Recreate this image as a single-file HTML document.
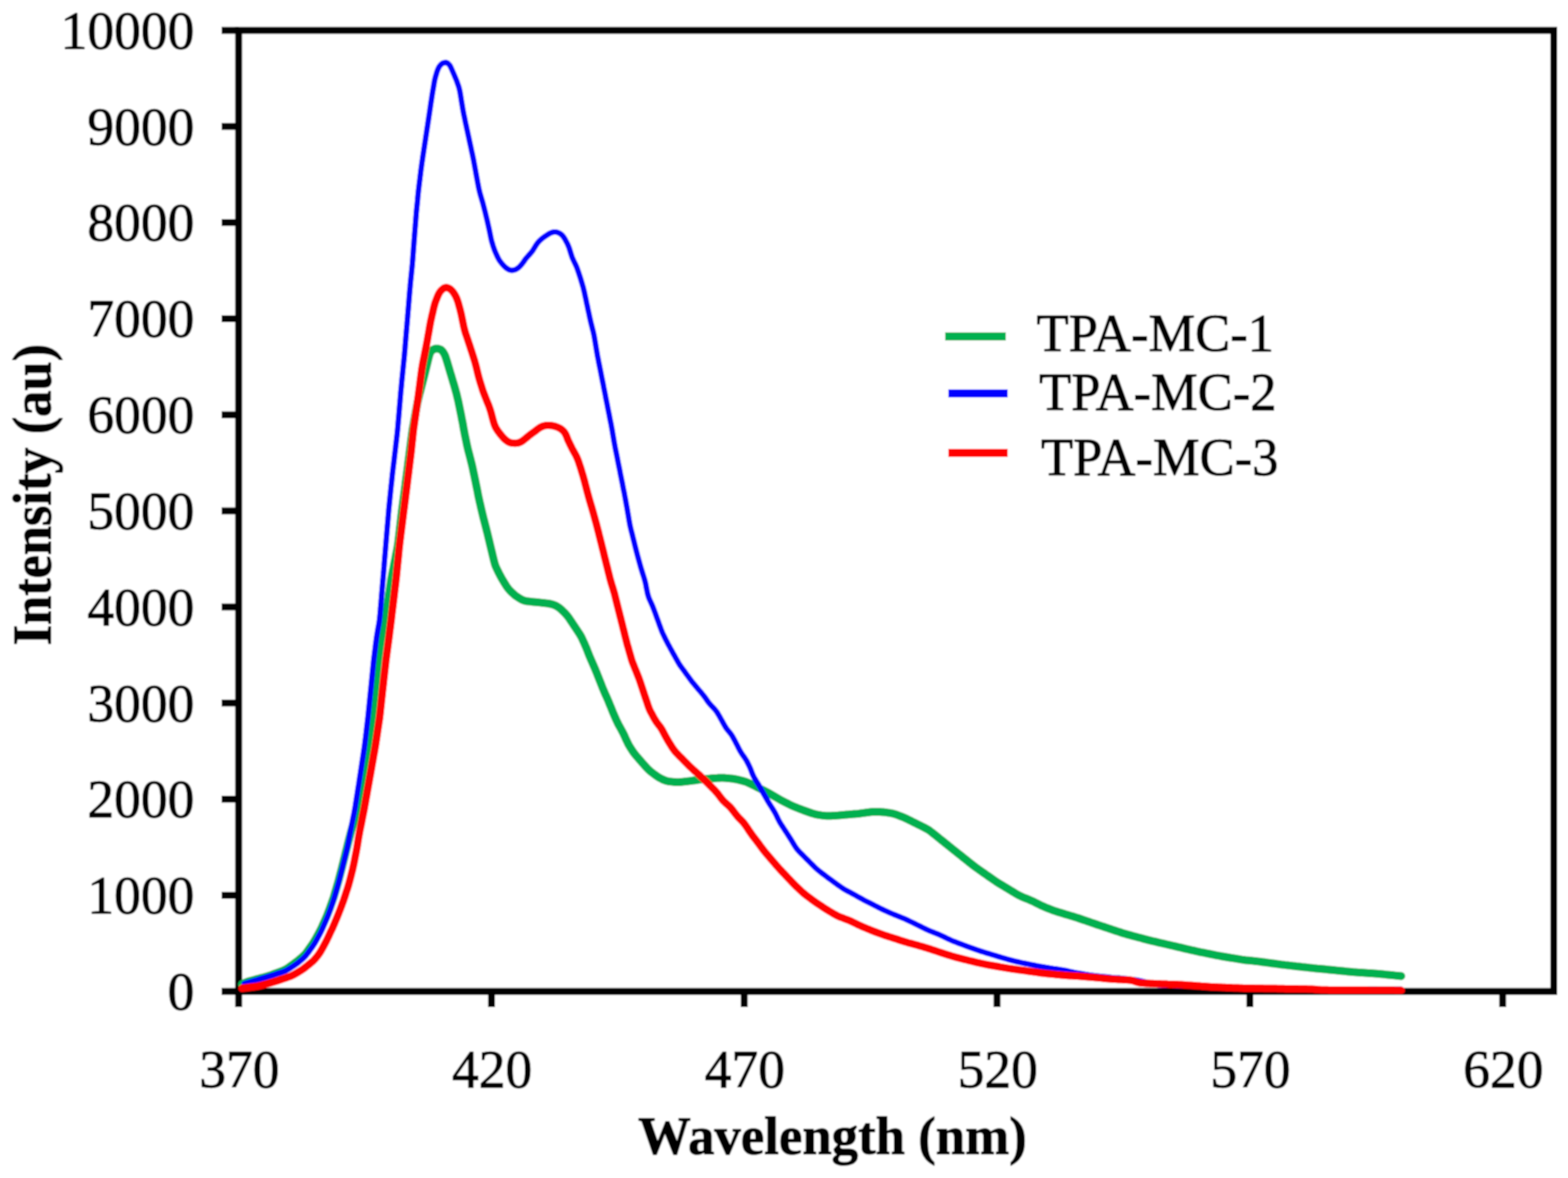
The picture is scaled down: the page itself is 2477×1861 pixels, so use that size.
<!DOCTYPE html>
<html lang="en">
<head>
<meta charset="utf-8">
<title>Emission spectra of TPA-MC-1, TPA-MC-2 and TPA-MC-3</title>
<style>
html,body{margin:0;padding:0;background:#fff;}
body{width:2477px;height:1861px;overflow:hidden;}
svg{display:block;}
text{font-family:"Liberation Serif","DejaVu Serif",serif;fill:#000;stroke:#000;stroke-width:1.5px;stroke-linejoin:round;}
.tick{font-size:84.5px;}
.title{font-size:84.5px;font-weight:bold;}
.leg{font-size:84.5px;}
</style>
</head>
<body>
<svg width="2477" height="1861" viewBox="0 0 2477 1861">
<defs><filter id="soft" x="0" y="0" width="2477" height="1861" filterUnits="userSpaceOnUse"><feGaussianBlur stdDeviation="1.0"/></filter></defs>
<rect x="0" y="0" width="2477" height="1861" fill="#fff"/>
<g filter="url(#soft)">
<rect x="0" y="0" width="2477" height="1861" fill="#fff"/>
<rect x="377.0" y="48.0" width="2077.5" height="1518.2" fill="none" stroke="#000" stroke-width="11"/>
<line x1="350" y1="1566.2" x2="377.0" y2="1566.2" stroke="#000" stroke-width="11"/><text class="tick" transform="translate(307 1595.0) scale(1 1.0)" text-anchor="end">0</text>
<line x1="350" y1="1414.4" x2="377.0" y2="1414.4" stroke="#000" stroke-width="11"/><text class="tick" transform="translate(307 1443.2) scale(1 1.0)" text-anchor="end">1000</text>
<line x1="350" y1="1262.6" x2="377.0" y2="1262.6" stroke="#000" stroke-width="11"/><text class="tick" transform="translate(307 1291.4) scale(1 1.0)" text-anchor="end">2000</text>
<line x1="350" y1="1110.7" x2="377.0" y2="1110.7" stroke="#000" stroke-width="11"/><text class="tick" transform="translate(307 1139.5) scale(1 1.0)" text-anchor="end">3000</text>
<line x1="350" y1="958.9" x2="377.0" y2="958.9" stroke="#000" stroke-width="11"/><text class="tick" transform="translate(307 987.7) scale(1 1.0)" text-anchor="end">4000</text>
<line x1="350" y1="807.1" x2="377.0" y2="807.1" stroke="#000" stroke-width="11"/><text class="tick" transform="translate(307 835.9) scale(1 1.0)" text-anchor="end">5000</text>
<line x1="350" y1="655.3" x2="377.0" y2="655.3" stroke="#000" stroke-width="11"/><text class="tick" transform="translate(307 684.1) scale(1 1.0)" text-anchor="end">6000</text>
<line x1="350" y1="503.5" x2="377.0" y2="503.5" stroke="#000" stroke-width="11"/><text class="tick" transform="translate(307 532.3) scale(1 1.0)" text-anchor="end">7000</text>
<line x1="350" y1="351.6" x2="377.0" y2="351.6" stroke="#000" stroke-width="11"/><text class="tick" transform="translate(307 380.4) scale(1 1.0)" text-anchor="end">8000</text>
<line x1="350" y1="199.8" x2="377.0" y2="199.8" stroke="#000" stroke-width="11"/><text class="tick" transform="translate(307 228.6) scale(1 1.0)" text-anchor="end">9000</text>
<line x1="350" y1="48.0" x2="377.0" y2="48.0" stroke="#000" stroke-width="11"/><text class="tick" transform="translate(307 76.8) scale(1 1.0)" text-anchor="end">10000</text>
<line x1="377.0" y1="1566.2" x2="377.0" y2="1591" stroke="#000" stroke-width="11"/><text class="tick" transform="translate(378.0 1718.3) scale(1 1.0)" text-anchor="middle">370</text>
<line x1="776.4" y1="1566.2" x2="776.4" y2="1591" stroke="#000" stroke-width="11"/><text class="tick" transform="translate(777.4 1718.3) scale(1 1.0)" text-anchor="middle">420</text>
<line x1="1175.7" y1="1566.2" x2="1175.7" y2="1591" stroke="#000" stroke-width="11"/><text class="tick" transform="translate(1176.7 1718.3) scale(1 1.0)" text-anchor="middle">470</text>
<line x1="1575.0" y1="1566.2" x2="1575.0" y2="1591" stroke="#000" stroke-width="11"/><text class="tick" transform="translate(1576.0 1718.3) scale(1 1.0)" text-anchor="middle">520</text>
<line x1="1974.4" y1="1566.2" x2="1974.4" y2="1591" stroke="#000" stroke-width="11"/><text class="tick" transform="translate(1975.4 1718.3) scale(1 1.0)" text-anchor="middle">570</text>
<line x1="2373.8" y1="1566.2" x2="2373.8" y2="1591" stroke="#000" stroke-width="11"/><text class="tick" transform="translate(2374.8 1718.3) scale(1 1.0)" text-anchor="middle">620</text>
<path d="M382.5,1555.0 L385.3,1553.5 L387.9,1552.2 L390.6,1551.1 L393.4,1550.2 L396.3,1549.4 L399.2,1548.6 L402.1,1547.8 L405.0,1547.0 L407.9,1546.3 L410.8,1545.5 L413.7,1544.7 L416.6,1544.0 L419.5,1543.2 L422.4,1542.3 L425.2,1541.4 L428.1,1540.5 L430.9,1539.4 L433.7,1538.4 L436.5,1537.4 L439.3,1536.3 L442.1,1535.3 L444.9,1534.2 L447.7,1533.1 L450.4,1531.8 L453.0,1530.4 L455.5,1528.7 L457.9,1527.0 L460.4,1525.2 L462.8,1523.5 L465.2,1521.7 L467.6,1519.9 L470.0,1518.1 L472.3,1516.2 L474.6,1514.3 L476.9,1512.3 L479.1,1510.3 L481.2,1508.2 L483.2,1506.0 L485.0,1503.6 L486.8,1501.2 L488.5,1498.7 L490.2,1496.3 L491.9,1493.8 L493.6,1491.3 L495.3,1488.8 L496.8,1486.3 L498.3,1483.7 L499.8,1481.1 L501.2,1478.5 L502.7,1475.8 L504.1,1473.2 L505.5,1470.6 L506.9,1467.9 L508.2,1465.2 L509.4,1462.4 L510.6,1459.7 L511.9,1457.0 L513.1,1454.2 L514.3,1451.5 L515.5,1448.7 L516.7,1446.0 L517.8,1443.2 L518.9,1440.4 L519.9,1437.6 L521.0,1434.8 L522.0,1431.9 L523.0,1429.1 L524.0,1426.3 L525.0,1423.5 L526.0,1420.6 L527.0,1417.8 L527.9,1414.9 L528.7,1412.1 L529.6,1409.2 L530.4,1406.3 L531.3,1403.4 L532.1,1400.5 L532.9,1397.7 L533.8,1394.8 L534.6,1391.9 L535.4,1389.0 L536.1,1386.1 L536.9,1383.2 L537.6,1380.3 L538.4,1377.4 L539.1,1374.5 L539.9,1371.6 L540.6,1368.7 L541.3,1365.8 L542.1,1362.9 L542.8,1359.9 L543.5,1357.0 L544.3,1354.1 L545.0,1351.2 L545.7,1348.3 L546.4,1345.4 L547.1,1342.5 L547.9,1339.6 L548.6,1336.7 L549.3,1333.7 L550.1,1330.8 L550.8,1327.9 L551.6,1325.0 L552.3,1322.1 L553.1,1319.2 L553.8,1316.3 L554.6,1313.4 L555.4,1310.5 L556.2,1307.6 L557.1,1304.8 L558.0,1301.9 L558.9,1299.0 L559.8,1296.2 L560.7,1293.3 L561.6,1290.5 L562.5,1287.6 L563.4,1284.8 L564.3,1281.9 L565.0,1279.0 L565.6,1276.0 L566.1,1273.1 L566.6,1270.1 L567.0,1267.2 L567.5,1264.2 L568.0,1261.2 L568.5,1258.3 L568.9,1255.3 L569.4,1252.4 L569.9,1249.4 L570.4,1246.4 L570.8,1243.5 L571.3,1240.5 L571.8,1237.5 L572.3,1234.6 L572.7,1231.6 L573.2,1228.7 L573.7,1225.7 L574.2,1222.7 L574.7,1219.8 L575.2,1216.8 L575.7,1213.9 L576.2,1210.9 L576.7,1207.9 L577.2,1205.0 L577.7,1202.0 L578.2,1199.1 L578.6,1196.1 L579.1,1193.1 L579.6,1190.2 L580.1,1187.2 L580.6,1184.3 L581.1,1181.3 L581.5,1178.3 L582.0,1175.4 L582.4,1172.4 L582.8,1169.4 L583.2,1166.5 L583.6,1163.5 L584.0,1160.5 L584.3,1157.5 L584.7,1154.6 L585.1,1151.6 L585.5,1148.6 L585.9,1145.6 L586.3,1142.7 L586.7,1139.7 L587.1,1136.7 L587.5,1133.7 L587.8,1130.8 L588.2,1127.8 L588.5,1124.8 L588.8,1121.8 L589.1,1118.8 L589.5,1115.8 L589.8,1112.9 L590.1,1109.9 L590.5,1106.9 L590.8,1103.9 L591.1,1100.9 L591.5,1098.0 L591.8,1095.0 L592.1,1092.0 L592.4,1089.0 L592.7,1086.0 L593.0,1083.0 L593.3,1080.1 L593.6,1077.1 L593.9,1074.1 L594.2,1071.1 L594.5,1068.1 L594.8,1065.1 L595.1,1062.1 L595.4,1059.2 L595.7,1056.2 L596.0,1053.2 L596.3,1050.2 L596.6,1047.2 L597.0,1044.2 L597.3,1041.3 L597.7,1038.3 L598.1,1035.3 L598.5,1032.3 L598.9,1029.4 L599.3,1026.4 L599.7,1023.4 L600.1,1020.5 L600.6,1017.5 L601.0,1014.5 L601.4,1011.5 L601.9,1008.6 L602.5,1005.6 L603.1,1002.7 L603.9,999.8 L604.6,996.9 L605.4,994.0 L606.1,991.1 L606.9,988.2 L607.6,985.3 L608.3,982.4 L608.9,979.4 L609.4,976.5 L609.9,973.5 L610.3,970.6 L610.7,967.6 L611.1,964.6 L611.5,961.6 L612.0,958.7 L612.4,955.7 L612.8,952.7 L613.2,949.8 L613.6,946.8 L614.0,943.8 L614.4,940.8 L614.8,937.9 L615.2,934.9 L615.7,931.9 L616.1,929.0 L616.5,926.0 L616.9,923.0 L617.3,920.0 L617.8,917.1 L618.2,914.1 L618.8,911.2 L619.3,908.2 L619.9,905.3 L620.5,902.3 L621.1,899.4 L621.7,896.4 L622.2,893.5 L622.8,890.6 L623.4,887.6 L624.0,884.7 L624.6,881.7 L625.1,878.8 L625.7,875.8 L626.3,872.9 L626.9,870.0 L627.5,867.0 L628.0,864.1 L628.5,861.1 L629.0,858.1 L629.3,855.2 L629.7,852.2 L630.0,849.2 L630.4,846.2 L630.7,843.3 L631.1,840.3 L631.4,837.3 L631.7,834.3 L632.1,831.3 L632.4,828.4 L632.8,825.4 L633.1,822.4 L633.5,819.4 L633.8,816.4 L634.1,813.4 L634.5,810.5 L634.8,807.5 L635.2,804.5 L635.6,801.5 L636.0,798.6 L636.4,795.6 L636.8,792.6 L637.2,789.6 L637.6,786.7 L638.0,783.7 L638.4,780.7 L638.8,777.7 L639.2,774.8 L639.6,771.8 L640.0,768.8 L640.4,765.9 L640.7,762.9 L641.1,759.9 L641.5,756.9 L641.9,754.0 L642.3,751.0 L642.7,748.0 L643.1,745.0 L643.5,742.1 L643.9,739.1 L644.3,736.1 L644.6,733.1 L645.0,730.2 L645.4,727.2 L645.8,724.2 L646.2,721.2 L646.6,718.3 L646.9,715.3 L647.3,712.3 L647.7,709.3 L648.1,706.4 L648.5,703.4 L648.9,700.4 L649.2,697.4 L649.6,694.5 L650.0,691.5 L650.4,688.5 L650.8,685.5 L651.2,682.6 L651.6,679.6 L652.1,676.6 L652.6,673.7 L653.2,670.7 L653.7,667.8 L654.2,664.8 L654.8,661.9 L655.3,658.9 L655.8,656.0 L656.4,653.0 L656.9,650.1 L657.4,647.1 L658.0,644.2 L658.5,641.2 L659.1,638.3 L659.6,635.3 L660.3,632.4 L661.0,629.5 L661.7,626.6 L662.4,623.7 L663.2,620.7 L664.0,617.8 L664.7,614.9 L665.5,612.0 L666.2,609.1 L667.0,606.2 L667.7,603.3 L668.5,600.4 L669.2,597.5 L670.0,594.6 L670.7,591.7 L671.4,588.8 L672.1,585.9 L672.8,583.0 L673.6,580.0 L674.3,577.1 L675.0,574.2 L675.7,571.3 L676.4,568.4 L677.1,565.5 L677.9,562.6 L678.7,559.7 L679.8,557.1 L681.4,554.7 L683.4,552.9 L685.9,551.5 L688.6,550.8 L691.5,550.8 L694.2,551.4 L696.7,552.6 L698.7,554.4 L700.4,556.8 L701.9,559.3 L703.2,562.0 L704.2,564.8 L705.1,567.6 L706.0,570.5 L706.9,573.4 L707.7,576.3 L708.6,579.1 L709.4,582.0 L710.3,584.9 L711.1,587.8 L712.0,590.6 L712.9,593.5 L713.7,596.4 L714.6,599.3 L715.4,602.1 L716.3,605.0 L717.2,607.9 L718.0,610.8 L718.8,613.6 L719.6,616.5 L720.4,619.4 L721.2,622.3 L721.9,625.2 L722.6,628.2 L723.3,631.1 L724.0,634.0 L724.6,636.9 L725.2,639.9 L725.8,642.8 L726.4,645.7 L727.0,648.7 L727.6,651.6 L728.2,654.6 L728.8,657.5 L729.3,660.5 L729.9,663.4 L730.5,666.3 L731.1,669.3 L731.6,672.2 L732.1,675.2 L732.6,678.1 L733.2,681.1 L733.8,684.0 L734.3,687.0 L735.0,689.9 L735.6,692.9 L736.2,695.8 L736.8,698.7 L737.4,701.7 L738.0,704.6 L738.7,707.5 L739.4,710.4 L740.1,713.3 L740.9,716.2 L741.7,719.2 L742.4,722.1 L743.2,725.0 L743.9,727.9 L744.6,730.8 L745.4,733.7 L746.0,736.6 L746.7,739.5 L747.3,742.5 L747.9,745.4 L748.5,748.3 L749.2,751.3 L749.8,754.2 L750.4,757.1 L751.0,760.1 L751.6,763.0 L752.2,766.0 L752.8,768.9 L753.4,771.8 L754.0,774.8 L754.6,777.7 L755.1,780.7 L755.7,783.6 L756.3,786.6 L757.0,789.5 L757.6,792.4 L758.3,795.3 L759.0,798.3 L759.6,801.2 L760.3,804.1 L761.0,807.0 L761.7,809.9 L762.4,812.9 L763.1,815.8 L763.8,818.7 L764.6,821.6 L765.3,824.5 L766.1,827.4 L766.8,830.3 L767.6,833.2 L768.3,836.1 L769.0,839.0 L769.8,841.9 L770.5,844.9 L771.2,847.8 L771.9,850.7 L772.6,853.6 L773.3,856.5 L774.0,859.4 L774.7,862.4 L775.4,865.3 L776.1,868.2 L776.8,871.1 L777.5,874.0 L778.2,876.9 L778.9,879.9 L779.6,882.8 L780.3,885.7 L781.1,888.6 L781.9,891.5 L782.9,894.3 L784.1,897.0 L785.4,899.7 L786.7,902.4 L788.0,905.1 L789.4,907.8 L790.8,910.4 L792.2,913.0 L793.7,915.6 L795.3,918.2 L796.8,920.8 L798.4,923.3 L800.0,925.9 L801.7,928.3 L803.5,930.6 L805.5,932.9 L807.6,935.0 L809.8,937.1 L812.0,939.1 L814.3,941.0 L816.8,942.7 L819.3,944.3 L821.8,945.9 L824.4,947.3 L827.1,948.5 L829.9,949.3 L832.8,949.9 L835.8,950.2 L838.8,950.5 L841.7,950.8 L844.7,951.1 L847.7,951.4 L850.7,951.7 L853.7,952.0 L856.7,952.3 L859.6,952.6 L862.6,953.0 L865.6,953.4 L868.5,953.9 L871.5,954.5 L874.3,955.4 L877.1,956.5 L879.7,957.8 L882.2,959.4 L884.6,961.2 L886.9,963.1 L889.0,965.2 L891.1,967.3 L893.2,969.4 L895.2,971.7 L897.1,974.0 L898.9,976.4 L900.5,978.9 L902.2,981.4 L903.9,983.9 L905.5,986.4 L907.2,988.9 L908.9,991.4 L910.5,993.9 L912.2,996.4 L913.8,998.9 L915.5,1001.4 L917.0,1003.9 L918.5,1006.5 L919.8,1009.2 L921.0,1012.0 L922.3,1014.7 L923.5,1017.4 L924.7,1020.2 L925.9,1022.9 L927.0,1025.7 L928.1,1028.5 L929.2,1031.3 L930.3,1034.1 L931.4,1036.9 L932.6,1039.6 L933.8,1042.4 L935.0,1045.1 L936.2,1047.9 L937.4,1050.6 L938.6,1053.4 L939.8,1056.1 L940.9,1058.9 L942.1,1061.7 L943.2,1064.5 L944.3,1067.3 L945.4,1070.0 L946.5,1072.8 L947.6,1075.6 L948.7,1078.4 L949.8,1081.2 L950.9,1084.0 L952.0,1086.8 L953.2,1089.5 L954.3,1092.3 L955.5,1095.1 L956.7,1097.8 L958.0,1100.5 L959.2,1103.3 L960.4,1106.0 L961.6,1108.8 L962.7,1111.6 L963.8,1114.3 L965.0,1117.1 L966.1,1119.9 L967.2,1122.7 L968.3,1125.5 L969.5,1128.2 L970.7,1131.0 L971.9,1133.7 L973.1,1136.5 L974.4,1139.2 L975.7,1141.9 L977.0,1144.6 L978.5,1147.2 L979.9,1149.8 L981.4,1152.5 L982.8,1155.1 L984.2,1157.7 L985.5,1160.4 L986.8,1163.1 L988.0,1165.9 L989.2,1168.6 L990.5,1171.3 L991.8,1174.0 L993.2,1176.7 L994.7,1179.2 L996.3,1181.8 L997.9,1184.3 L999.6,1186.8 L1001.3,1189.3 L1003.1,1191.7 L1005.0,1194.0 L1007.0,1196.2 L1008.9,1198.5 L1010.9,1200.8 L1012.9,1203.0 L1014.8,1205.3 L1016.8,1207.5 L1018.8,1209.8 L1020.8,1212.0 L1022.9,1214.2 L1025.0,1216.3 L1027.2,1218.3 L1029.6,1220.2 L1032.0,1222.0 L1034.4,1223.8 L1036.8,1225.5 L1039.3,1227.2 L1041.8,1228.7 L1044.5,1230.1 L1047.1,1231.5 L1049.9,1232.7 L1052.7,1233.6 L1055.6,1234.3 L1058.5,1234.7 L1061.5,1235.0 L1064.5,1235.3 L1067.4,1235.5 L1070.4,1235.6 L1073.4,1235.5 L1076.4,1235.3 L1079.4,1235.0 L1082.4,1234.7 L1085.4,1234.4 L1088.3,1234.0 L1091.3,1233.7 L1094.3,1233.2 L1097.2,1232.8 L1100.2,1232.4 L1103.2,1231.9 L1106.2,1231.5 L1109.1,1231.2 L1112.1,1230.9 L1115.1,1230.6 L1118.1,1230.3 L1121.1,1230.0 L1124.1,1229.7 L1127.1,1229.5 L1130.0,1229.3 L1133.0,1229.2 L1136.0,1229.0 L1139.0,1228.9 L1142.0,1228.9 L1145.0,1229.0 L1148.0,1229.3 L1151.0,1229.5 L1154.0,1229.8 L1157.0,1230.2 L1159.9,1230.6 L1162.9,1231.1 L1165.8,1231.8 L1168.7,1232.5 L1171.6,1233.2 L1174.5,1234.0 L1177.4,1234.8 L1180.2,1235.9 L1182.9,1237.1 L1185.6,1238.3 L1188.3,1239.7 L1191.0,1241.0 L1193.7,1242.3 L1196.4,1243.7 L1199.0,1245.0 L1201.7,1246.4 L1204.4,1247.7 L1207.1,1249.1 L1209.8,1250.4 L1212.4,1251.8 L1215.1,1253.2 L1217.7,1254.7 L1220.3,1256.2 L1222.8,1257.7 L1225.4,1259.3 L1228.0,1260.8 L1230.6,1262.3 L1233.2,1263.8 L1235.8,1265.2 L1238.5,1266.6 L1241.2,1267.9 L1243.9,1269.3 L1246.5,1270.6 L1249.2,1271.9 L1252.0,1273.2 L1254.7,1274.4 L1257.5,1275.5 L1260.3,1276.6 L1263.1,1277.7 L1265.9,1278.8 L1268.7,1279.9 L1271.5,1280.9 L1274.3,1281.9 L1277.1,1282.9 L1280.0,1283.9 L1282.8,1284.9 L1285.7,1285.7 L1288.6,1286.5 L1291.5,1287.1 L1294.5,1287.5 L1297.4,1288.0 L1300.4,1288.4 L1303.4,1288.7 L1306.3,1288.9 L1309.3,1288.9 L1312.3,1288.8 L1315.3,1288.7 L1318.3,1288.6 L1321.3,1288.4 L1324.3,1288.2 L1327.3,1287.9 L1330.3,1287.6 L1333.3,1287.3 L1336.2,1287.0 L1339.2,1286.8 L1342.2,1286.5 L1345.2,1286.3 L1348.2,1286.0 L1351.2,1285.8 L1354.2,1285.6 L1357.2,1285.3 L1360.1,1284.9 L1363.1,1284.5 L1366.1,1284.1 L1369.1,1283.7 L1372.0,1283.3 L1375.0,1282.9 L1378.0,1282.7 L1381.0,1282.6 L1384.0,1282.6 L1387.0,1282.6 L1390.0,1282.6 L1393.0,1282.8 L1395.9,1283.0 L1398.9,1283.3 L1401.9,1283.8 L1404.9,1284.2 L1407.8,1284.7 L1410.7,1285.3 L1413.6,1286.1 L1416.4,1287.0 L1419.2,1288.1 L1422.0,1289.2 L1424.8,1290.3 L1427.6,1291.4 L1430.3,1292.6 L1433.1,1293.9 L1435.7,1295.2 L1438.4,1296.5 L1441.1,1297.9 L1443.8,1299.2 L1446.5,1300.6 L1449.2,1301.9 L1451.8,1303.3 L1454.5,1304.6 L1457.2,1305.9 L1459.9,1307.3 L1462.6,1308.7 L1465.2,1310.1 L1467.7,1311.7 L1470.1,1313.5 L1472.5,1315.3 L1474.8,1317.2 L1477.2,1319.1 L1479.5,1320.9 L1481.8,1322.8 L1484.2,1324.7 L1486.5,1326.6 L1488.8,1328.4 L1491.2,1330.3 L1493.5,1332.2 L1495.9,1334.1 L1498.2,1336.0 L1500.5,1337.8 L1502.9,1339.7 L1505.2,1341.6 L1507.6,1343.5 L1509.9,1345.3 L1512.3,1347.2 L1514.6,1349.1 L1517.0,1350.9 L1519.3,1352.8 L1521.6,1354.7 L1524.0,1356.6 L1526.3,1358.4 L1528.7,1360.3 L1531.0,1362.2 L1533.4,1364.1 L1535.7,1365.9 L1538.1,1367.8 L1540.5,1369.5 L1542.9,1371.3 L1545.4,1373.0 L1547.8,1374.8 L1550.3,1376.5 L1552.7,1378.2 L1555.2,1379.9 L1557.6,1381.6 L1560.1,1383.4 L1562.6,1385.1 L1565.0,1386.8 L1567.5,1388.5 L1570.0,1390.2 L1572.4,1391.9 L1574.9,1393.6 L1577.5,1395.2 L1580.0,1396.7 L1582.6,1398.3 L1585.1,1399.8 L1587.7,1401.4 L1590.3,1402.9 L1592.9,1404.5 L1595.4,1406.0 L1598.0,1407.6 L1600.6,1409.1 L1603.1,1410.7 L1605.7,1412.2 L1608.3,1413.7 L1611.0,1415.1 L1613.7,1416.4 L1616.4,1417.6 L1619.2,1418.7 L1622.0,1419.8 L1624.8,1420.9 L1627.5,1422.1 L1630.3,1423.3 L1633.0,1424.6 L1635.7,1425.9 L1638.3,1427.2 L1641.0,1428.6 L1643.7,1429.9 L1646.4,1431.2 L1649.2,1432.4 L1651.9,1433.6 L1654.7,1434.7 L1657.5,1435.8 L1660.3,1436.9 L1663.1,1438.0 L1665.9,1439.0 L1668.8,1439.9 L1671.6,1440.8 L1674.5,1441.7 L1677.4,1442.5 L1680.2,1443.4 L1683.1,1444.3 L1686.0,1445.1 L1688.9,1446.0 L1691.7,1446.9 L1694.6,1447.7 L1697.5,1448.6 L1700.3,1449.5 L1703.2,1450.4 L1706.0,1451.4 L1708.9,1452.4 L1711.7,1453.3 L1714.6,1454.3 L1717.4,1455.3 L1720.2,1456.2 L1723.1,1457.2 L1725.9,1458.2 L1728.7,1459.1 L1731.6,1460.1 L1734.4,1461.1 L1737.3,1462.0 L1740.1,1463.0 L1743.0,1463.9 L1745.8,1464.9 L1748.7,1465.8 L1751.5,1466.8 L1754.3,1467.7 L1757.2,1468.7 L1760.0,1469.6 L1762.9,1470.6 L1765.7,1471.5 L1768.6,1472.4 L1771.4,1473.4 L1774.3,1474.3 L1777.2,1475.2 L1780.1,1476.0 L1782.9,1476.8 L1785.8,1477.5 L1788.7,1478.3 L1791.6,1479.1 L1794.5,1479.9 L1797.4,1480.7 L1800.3,1481.4 L1803.2,1482.2 L1806.1,1483.0 L1809.0,1483.8 L1811.9,1484.5 L1814.8,1485.3 L1817.7,1486.0 L1820.7,1486.7 L1823.6,1487.3 L1826.5,1488.0 L1829.4,1488.7 L1832.4,1489.4 L1835.3,1490.1 L1838.2,1490.7 L1841.1,1491.4 L1844.0,1492.1 L1847.0,1492.8 L1849.9,1493.4 L1852.8,1494.1 L1855.7,1494.8 L1858.7,1495.5 L1861.6,1496.2 L1864.5,1496.8 L1867.4,1497.5 L1870.3,1498.2 L1873.3,1498.9 L1876.2,1499.6 L1879.1,1500.3 L1882.0,1501.0 L1884.9,1501.6 L1887.9,1502.3 L1890.8,1502.9 L1893.7,1503.6 L1896.7,1504.2 L1899.6,1504.7 L1902.6,1505.3 L1905.5,1505.9 L1908.4,1506.5 L1911.4,1507.1 L1914.3,1507.7 L1917.3,1508.3 L1920.2,1508.9 L1923.1,1509.5 L1926.1,1510.0 L1929.0,1510.6 L1932.0,1511.1 L1935.0,1511.6 L1937.9,1512.1 L1940.9,1512.6 L1943.8,1513.1 L1946.8,1513.5 L1949.8,1514.0 L1952.7,1514.5 L1955.7,1515.0 L1958.6,1515.5 L1961.6,1516.0 L1964.6,1516.4 L1967.5,1516.8 L1970.5,1517.1 L1973.5,1517.4 L1976.5,1517.7 L1979.5,1518.0 L1982.5,1518.3 L1985.4,1518.7 L1988.4,1519.0 L1991.4,1519.4 L1994.4,1519.8 L1997.3,1520.2 L2000.3,1520.6 L2003.3,1521.0 L2006.3,1521.4 L2009.2,1521.8 L2012.2,1522.2 L2015.2,1522.6 L2018.1,1523.0 L2021.1,1523.4 L2024.1,1523.8 L2027.1,1524.1 L2030.1,1524.5 L2033.0,1524.8 L2036.0,1525.2 L2039.0,1525.5 L2042.0,1525.9 L2045.0,1526.2 L2047.9,1526.6 L2050.9,1526.9 L2053.9,1527.2 L2056.9,1527.6 L2059.9,1527.9 L2062.8,1528.2 L2065.8,1528.5 L2068.8,1528.9 L2071.8,1529.2 L2074.8,1529.5 L2077.8,1529.8 L2080.7,1530.1 L2083.7,1530.3 L2086.7,1530.6 L2089.7,1530.9 L2092.7,1531.2 L2095.7,1531.5 L2098.7,1531.8 L2101.6,1532.1 L2104.6,1532.4 L2107.6,1532.7 L2110.6,1533.0 L2113.6,1533.3 L2116.6,1533.6 L2119.6,1533.9 L2122.5,1534.2 L2125.5,1534.5 L2128.5,1534.8 L2131.5,1535.1 L2134.5,1535.4 L2137.5,1535.7 L2140.5,1535.9 L2143.5,1536.1 L2146.4,1536.3 L2149.4,1536.5 L2152.4,1536.7 L2155.4,1536.9 L2158.4,1537.1 L2161.4,1537.3 L2164.4,1537.5 L2167.4,1537.7 L2170.4,1537.9 L2173.4,1538.1 L2176.4,1538.4 L2179.4,1538.6 L2182.4,1538.9 L2185.3,1539.2 L2188.3,1539.5 L2191.3,1539.8 L2194.3,1540.1 L2197.3,1540.4 L2200.3,1540.7 L2203.2,1541.0 L2206.2,1541.3 L2209.1,1541.6 L2212.1,1541.9 L2213.5,1542.0" fill="none" stroke="#00b050" stroke-width="12.8" stroke-linejoin="round" stroke-linecap="round"/>
<path d="M386.0,1554.0 L389.0,1553.1 L391.8,1552.2 L394.6,1551.3 L397.5,1550.5 L400.4,1549.6 L403.2,1548.8 L406.1,1548.0 L409.0,1547.1 L411.9,1546.3 L414.7,1545.4 L417.6,1544.6 L420.5,1543.7 L423.4,1542.9 L426.2,1542.0 L429.1,1541.1 L432.0,1540.2 L434.8,1539.3 L437.7,1538.3 L440.5,1537.4 L443.4,1536.5 L446.2,1535.6 L449.0,1534.6 L451.8,1533.3 L454.4,1531.9 L456.9,1530.4 L459.5,1528.8 L462.0,1527.1 L464.5,1525.5 L467.0,1523.8 L469.4,1522.1 L471.8,1520.2 L474.1,1518.3 L476.4,1516.4 L478.6,1514.4 L480.8,1512.3 L482.8,1510.2 L484.7,1507.8 L486.5,1505.5 L488.3,1503.0 L490.0,1500.6 L491.8,1498.2 L493.5,1495.8 L495.2,1493.3 L496.9,1490.8 L498.4,1488.2 L499.9,1485.6 L501.3,1482.9 L502.7,1480.3 L504.2,1477.7 L505.6,1475.0 L506.9,1472.4 L508.2,1469.6 L509.4,1466.9 L510.6,1464.2 L511.8,1461.4 L513.0,1458.7 L514.2,1455.9 L515.4,1453.1 L516.6,1450.4 L517.7,1447.6 L518.8,1444.8 L519.8,1442.0 L520.9,1439.2 L521.9,1436.4 L522.9,1433.5 L523.9,1430.7 L524.9,1427.9 L525.9,1425.0 L526.8,1422.2 L527.7,1419.3 L528.6,1416.5 L529.4,1413.6 L530.3,1410.7 L531.1,1407.8 L531.9,1404.9 L532.8,1402.1 L533.6,1399.2 L534.4,1396.3 L535.1,1393.4 L535.9,1390.5 L536.6,1387.6 L537.3,1384.7 L538.1,1381.8 L538.8,1378.8 L539.5,1375.9 L540.3,1373.0 L541.0,1370.1 L541.7,1367.2 L542.4,1364.3 L543.2,1361.4 L543.9,1358.5 L544.6,1355.6 L545.3,1352.6 L546.1,1349.7 L546.8,1346.8 L547.5,1343.9 L548.2,1341.0 L548.9,1338.1 L549.5,1335.1 L550.1,1332.2 L550.6,1329.2 L551.2,1326.3 L551.7,1323.3 L552.3,1320.4 L552.8,1317.4 L553.4,1314.5 L553.9,1311.5 L554.5,1308.6 L555.1,1305.7 L555.6,1302.7 L556.2,1299.8 L556.8,1296.8 L557.4,1293.9 L558.0,1290.9 L558.6,1288.0 L559.2,1285.1 L559.7,1282.1 L560.3,1279.2 L560.8,1276.2 L561.3,1273.2 L561.7,1270.3 L562.2,1267.3 L562.7,1264.4 L563.1,1261.4 L563.6,1258.4 L564.1,1255.5 L564.5,1252.5 L565.0,1249.5 L565.5,1246.6 L565.9,1243.6 L566.4,1240.7 L566.9,1237.7 L567.3,1234.7 L567.8,1231.8 L568.2,1228.8 L568.7,1225.8 L569.1,1222.9 L569.6,1219.9 L570.0,1216.9 L570.5,1214.0 L570.9,1211.0 L571.4,1208.0 L571.8,1205.1 L572.3,1202.1 L572.7,1199.1 L573.2,1196.2 L573.6,1193.2 L574.1,1190.2 L574.5,1187.3 L575.0,1184.3 L575.4,1181.3 L575.8,1178.4 L576.2,1175.4 L576.6,1172.4 L576.9,1169.4 L577.3,1166.5 L577.7,1163.5 L578.0,1160.5 L578.4,1157.5 L578.7,1154.5 L579.1,1151.6 L579.4,1148.6 L579.8,1145.6 L580.1,1142.6 L580.5,1139.6 L580.8,1136.7 L581.2,1133.7 L581.5,1130.7 L581.8,1127.7 L582.1,1124.7 L582.4,1121.7 L582.7,1118.8 L583.0,1115.8 L583.3,1112.8 L583.6,1109.8 L583.9,1106.8 L584.2,1103.8 L584.5,1100.8 L584.8,1097.9 L585.1,1094.9 L585.4,1091.9 L585.7,1088.9 L586.0,1085.9 L586.3,1082.9 L586.6,1080.0 L586.9,1077.0 L587.2,1074.0 L587.5,1071.0 L587.8,1068.0 L588.1,1065.0 L588.4,1062.0 L588.7,1059.1 L589.0,1056.1 L589.3,1053.1 L589.6,1050.1 L589.9,1047.1 L590.2,1044.1 L590.6,1041.2 L590.9,1038.2 L591.3,1035.2 L591.7,1032.2 L592.0,1029.2 L592.4,1026.3 L592.8,1023.3 L593.1,1020.3 L593.5,1017.3 L593.9,1014.4 L594.3,1011.4 L594.7,1008.4 L595.1,1005.4 L595.6,1002.5 L596.1,999.5 L596.6,996.6 L597.1,993.6 L597.6,990.7 L598.2,987.7 L598.7,984.8 L599.1,981.8 L599.5,978.8 L599.8,975.8 L600.1,972.9 L600.4,969.9 L600.6,966.9 L600.9,963.9 L601.1,960.9 L601.4,957.9 L601.6,954.9 L601.9,951.9 L602.1,948.9 L602.4,945.9 L602.6,943.0 L602.9,940.0 L603.1,937.0 L603.4,934.0 L603.6,931.0 L603.9,928.0 L604.2,925.0 L604.4,922.0 L604.7,919.0 L604.9,916.1 L605.2,913.1 L605.4,910.1 L605.7,907.1 L605.9,904.1 L606.2,901.1 L606.4,898.1 L606.7,895.1 L606.9,892.1 L607.1,889.1 L607.4,886.2 L607.6,883.2 L607.9,880.2 L608.1,877.2 L608.4,874.2 L608.6,871.2 L608.9,868.2 L609.1,865.2 L609.4,862.2 L609.6,859.2 L609.9,856.3 L610.1,853.3 L610.4,850.3 L610.6,847.3 L610.9,844.3 L611.1,841.3 L611.4,838.3 L611.6,835.3 L611.9,832.3 L612.1,829.4 L612.4,826.4 L612.6,823.4 L612.9,820.4 L613.1,817.4 L613.4,814.4 L613.6,811.4 L613.9,808.4 L614.1,805.4 L614.4,802.5 L614.7,799.5 L615.0,796.5 L615.3,793.5 L615.6,790.5 L615.9,787.5 L616.2,784.5 L616.5,781.6 L616.8,778.6 L617.1,775.6 L617.4,772.6 L617.7,769.6 L618.0,766.6 L618.4,763.7 L618.7,760.7 L619.0,757.7 L619.3,754.7 L619.6,751.7 L619.9,748.7 L620.3,745.8 L620.6,742.8 L621.0,739.8 L621.3,736.8 L621.7,733.8 L622.1,730.9 L622.4,727.9 L622.8,724.9 L623.1,721.9 L623.5,718.9 L623.8,716.0 L624.2,713.0 L624.5,710.0 L624.9,707.0 L625.2,704.0 L625.6,701.1 L625.9,698.1 L626.3,695.1 L626.6,692.1 L627.0,689.1 L627.3,686.2 L627.6,683.2 L627.9,680.2 L628.2,677.2 L628.5,674.2 L628.7,671.2 L629.0,668.2 L629.2,665.3 L629.5,662.3 L629.8,659.3 L630.0,656.3 L630.3,653.3 L630.5,650.3 L630.8,647.3 L631.0,644.3 L631.3,641.3 L631.5,638.4 L631.8,635.4 L632.0,632.4 L632.3,629.4 L632.5,626.4 L632.8,623.4 L633.0,620.4 L633.3,617.4 L633.6,614.4 L633.9,611.5 L634.2,608.5 L634.4,605.5 L634.7,602.5 L635.0,599.5 L635.3,596.5 L635.6,593.5 L635.9,590.6 L636.2,587.6 L636.5,584.6 L636.8,581.6 L637.1,578.6 L637.4,575.6 L637.7,572.6 L638.0,569.7 L638.3,566.7 L638.6,563.7 L638.9,560.7 L639.1,557.7 L639.4,554.7 L639.7,551.7 L639.9,548.7 L640.1,545.8 L640.4,542.8 L640.6,539.8 L640.9,536.8 L641.1,533.8 L641.4,530.8 L641.6,527.8 L641.9,524.8 L642.1,521.8 L642.4,518.9 L642.6,515.9 L642.9,512.9 L643.1,509.9 L643.4,506.9 L643.6,503.9 L643.9,500.9 L644.1,497.9 L644.4,494.9 L644.6,491.9 L644.9,489.0 L645.1,486.0 L645.4,483.0 L645.6,480.0 L645.9,477.0 L646.1,474.0 L646.3,471.0 L646.6,468.0 L646.8,465.0 L647.1,462.0 L647.3,459.1 L647.6,456.1 L647.9,453.1 L648.1,450.1 L648.4,447.1 L648.7,444.1 L649.0,441.1 L649.3,438.2 L649.6,435.2 L649.9,432.2 L650.2,429.2 L650.5,426.2 L650.8,423.2 L651.1,420.2 L651.4,417.3 L651.6,414.3 L651.9,411.3 L652.1,408.3 L652.3,405.3 L652.5,402.3 L652.8,399.3 L653.0,396.3 L653.2,393.3 L653.4,390.3 L653.7,387.3 L653.9,384.3 L654.1,381.4 L654.3,378.4 L654.6,375.4 L654.8,372.4 L655.0,369.4 L655.3,366.4 L655.5,363.4 L655.7,360.4 L656.0,357.4 L656.2,354.4 L656.5,351.4 L656.7,348.5 L656.9,345.5 L657.2,342.5 L657.4,339.5 L657.6,336.5 L657.9,333.5 L658.2,330.5 L658.5,327.5 L658.8,324.5 L659.1,321.6 L659.4,318.6 L659.7,315.6 L659.9,312.6 L660.2,309.6 L660.5,306.6 L660.8,303.7 L661.1,300.7 L661.5,297.7 L661.8,294.7 L662.2,291.7 L662.5,288.7 L662.9,285.8 L663.3,282.8 L663.6,279.8 L664.0,276.8 L664.4,273.9 L664.7,270.9 L665.1,267.9 L665.5,264.9 L665.9,262.0 L666.3,259.0 L666.7,256.0 L667.2,253.0 L667.6,250.1 L668.0,247.1 L668.5,244.1 L668.9,241.2 L669.4,238.2 L669.8,235.2 L670.3,232.3 L670.7,229.3 L671.2,226.3 L671.6,223.4 L672.1,220.4 L672.5,217.4 L673.0,214.5 L673.4,211.5 L673.9,208.6 L674.3,205.6 L674.8,202.6 L675.2,199.7 L675.7,196.7 L676.1,193.7 L676.6,190.8 L677.0,187.8 L677.4,184.8 L677.9,181.9 L678.3,178.9 L678.8,175.9 L679.2,173.0 L679.7,170.0 L680.1,167.0 L680.5,164.1 L681.0,161.1 L681.4,158.1 L681.9,155.2 L682.3,152.2 L682.8,149.2 L683.3,146.3 L683.8,143.3 L684.3,140.3 L684.8,137.4 L685.3,134.4 L685.8,131.5 L686.3,128.5 L686.9,125.6 L687.6,122.7 L688.4,119.8 L689.3,116.9 L690.1,114.0 L691.1,111.2 L692.2,108.5 L693.5,105.9 L695.2,103.5 L697.2,101.4 L699.5,99.8 L702.1,98.9 L704.6,98.8 L707.0,99.7 L709.0,101.5 L710.8,103.7 L712.2,106.3 L713.4,109.0 L714.6,111.8 L715.8,114.5 L717.0,117.3 L718.2,120.0 L719.3,122.8 L720.5,125.6 L721.6,128.3 L722.6,131.2 L723.6,134.0 L724.6,136.8 L725.4,139.7 L726.1,142.6 L726.7,145.5 L727.2,148.5 L727.7,151.5 L728.2,154.4 L728.6,157.4 L729.1,160.3 L729.6,163.3 L730.1,166.3 L730.6,169.2 L731.1,172.2 L731.6,175.1 L732.2,178.1 L732.7,181.0 L733.4,184.0 L734.0,186.9 L734.6,189.8 L735.2,192.8 L735.8,195.7 L736.5,198.6 L737.1,201.6 L737.7,204.5 L738.4,207.4 L739.0,210.4 L739.6,213.3 L740.3,216.2 L740.9,219.2 L741.5,222.1 L742.2,225.0 L742.8,228.0 L743.5,230.9 L744.1,233.8 L744.7,236.8 L745.3,239.7 L746.0,242.6 L746.6,245.6 L747.2,248.5 L747.8,251.4 L748.4,254.4 L748.9,257.3 L749.5,260.3 L750.0,263.2 L750.5,266.2 L751.1,269.1 L751.6,272.1 L752.1,275.0 L752.7,278.0 L753.2,280.9 L753.8,283.9 L754.3,286.8 L754.9,289.8 L755.4,292.7 L756.0,295.7 L756.6,298.6 L757.3,301.5 L758.0,304.4 L758.8,307.3 L759.6,310.2 L760.5,313.1 L761.3,316.0 L762.2,318.8 L763.0,321.7 L763.7,324.6 L764.5,327.5 L765.2,330.4 L766.0,333.4 L766.7,336.3 L767.4,339.2 L768.1,342.1 L768.8,345.0 L769.5,347.9 L770.2,350.9 L770.8,353.8 L771.5,356.7 L772.1,359.6 L772.8,362.6 L773.4,365.5 L774.0,368.4 L774.6,371.4 L775.2,374.3 L775.8,377.3 L776.5,380.2 L777.3,383.1 L778.2,385.9 L779.0,388.8 L780.0,391.6 L781.0,394.5 L782.1,397.2 L783.3,400.0 L784.5,402.7 L785.8,405.5 L787.1,408.1 L788.6,410.7 L790.3,413.2 L792.1,415.5 L794.0,417.8 L796.0,420.0 L798.2,422.1 L800.5,423.9 L803.0,425.5 L805.6,426.6 L808.4,427.0 L811.2,426.8 L813.9,426.0 L816.5,424.7 L818.9,423.0 L821.1,421.0 L823.1,418.8 L825.0,416.5 L826.8,414.1 L828.5,411.6 L830.2,409.2 L832.1,406.9 L834.1,404.6 L836.1,402.4 L838.1,400.2 L840.0,397.9 L841.8,395.5 L843.3,393.0 L844.9,390.4 L846.4,387.8 L848.1,385.4 L849.9,383.0 L851.9,380.8 L854.1,378.7 L856.4,376.8 L858.7,375.0 L861.2,373.3 L863.7,371.6 L866.2,370.0 L868.8,368.5 L871.5,367.3 L874.2,366.6 L877.1,366.4 L879.9,366.9 L882.6,367.9 L885.2,369.3 L887.5,371.1 L889.4,373.2 L891.1,375.6 L892.7,378.2 L894.1,380.8 L895.5,383.5 L896.8,386.1 L898.0,388.9 L899.1,391.7 L900.0,394.5 L900.9,397.4 L901.8,400.3 L902.7,403.1 L903.6,405.9 L904.8,408.7 L906.0,411.4 L907.3,414.1 L908.6,416.8 L909.9,419.5 L911.1,422.3 L912.1,425.1 L913.1,427.9 L914.1,430.8 L915.0,433.6 L916.0,436.5 L916.9,439.3 L917.8,442.2 L918.6,445.1 L919.5,447.9 L920.3,450.8 L921.2,453.7 L921.9,456.6 L922.6,459.5 L923.3,462.4 L923.9,465.4 L924.5,468.3 L925.2,471.2 L925.8,474.2 L926.4,477.1 L927.0,480.0 L927.7,483.0 L928.3,485.9 L928.9,488.8 L929.5,491.8 L930.2,494.7 L930.8,497.6 L931.4,500.6 L932.1,503.5 L932.7,506.4 L933.4,509.3 L934.1,512.3 L934.9,515.2 L935.6,518.1 L936.3,521.0 L937.1,523.9 L937.7,526.8 L938.4,529.7 L938.9,532.7 L939.4,535.6 L939.9,538.6 L940.4,541.6 L940.9,544.5 L941.4,547.5 L941.9,550.4 L942.4,553.4 L942.9,556.4 L943.4,559.3 L943.9,562.3 L944.5,565.2 L945.1,568.2 L945.6,571.1 L946.2,574.0 L946.8,577.0 L947.4,579.9 L948.0,582.9 L948.6,585.8 L949.2,588.8 L949.7,591.7 L950.3,594.6 L950.9,597.6 L951.5,600.5 L952.1,603.5 L952.7,606.4 L953.3,609.4 L953.8,612.3 L954.4,615.2 L955.0,618.2 L955.6,621.1 L956.2,624.1 L956.7,627.0 L957.3,630.0 L957.9,632.9 L958.5,635.8 L959.1,638.8 L959.6,641.7 L960.2,644.7 L960.8,647.6 L961.4,650.6 L962.0,653.5 L962.6,656.4 L963.1,659.4 L963.7,662.3 L964.3,665.3 L964.9,668.2 L965.5,671.2 L966.0,674.1 L966.6,677.1 L967.1,680.0 L967.6,683.0 L968.1,685.9 L968.6,688.9 L969.1,691.8 L969.6,694.8 L970.1,697.8 L970.6,700.7 L971.2,703.7 L971.7,706.6 L972.3,709.5 L972.9,712.5 L973.5,715.4 L974.1,718.4 L974.7,721.3 L975.3,724.3 L975.8,727.2 L976.4,730.1 L977.0,733.1 L977.6,736.0 L978.2,739.0 L978.8,741.9 L979.4,744.9 L979.9,747.8 L980.5,750.7 L981.1,753.7 L981.7,756.6 L982.3,759.6 L982.9,762.5 L983.5,765.4 L984.0,768.4 L984.6,771.3 L985.2,774.3 L985.8,777.2 L986.4,780.2 L986.9,783.1 L987.5,786.1 L988.0,789.0 L988.6,792.0 L989.1,794.9 L989.6,797.9 L990.2,800.8 L990.7,803.8 L991.2,806.7 L991.7,809.7 L992.2,812.6 L992.7,815.6 L993.2,818.6 L993.7,821.5 L994.2,824.5 L994.8,827.4 L995.3,830.4 L996.0,833.3 L996.7,836.2 L997.4,839.1 L998.2,842.0 L998.9,844.9 L999.6,847.8 L1000.3,850.8 L1001.1,853.7 L1001.8,856.6 L1002.5,859.5 L1003.2,862.4 L1003.9,865.3 L1004.7,868.2 L1005.4,871.1 L1006.2,874.0 L1006.9,876.9 L1007.7,879.8 L1008.5,882.7 L1009.3,885.6 L1010.1,888.5 L1010.9,891.4 L1011.7,894.3 L1012.5,897.2 L1013.4,900.0 L1014.3,902.9 L1015.2,905.8 L1016.1,908.6 L1017.0,911.5 L1017.9,914.4 L1018.7,917.2 L1019.4,920.1 L1020.1,923.1 L1020.6,926.0 L1021.2,929.0 L1021.8,931.9 L1022.4,934.8 L1023.0,937.8 L1023.8,940.7 L1024.7,943.5 L1025.8,946.3 L1027.0,949.0 L1028.2,951.7 L1029.5,954.5 L1030.7,957.2 L1031.8,960.0 L1032.9,962.8 L1033.9,965.6 L1035.0,968.4 L1036.0,971.3 L1037.0,974.1 L1038.0,976.9 L1039.1,979.7 L1040.1,982.5 L1041.1,985.4 L1042.1,988.2 L1043.2,991.0 L1044.2,993.8 L1045.3,996.6 L1046.4,999.4 L1047.7,1002.1 L1049.0,1004.8 L1050.3,1007.5 L1051.6,1010.2 L1053.0,1012.9 L1054.3,1015.5 L1055.7,1018.2 L1057.2,1020.8 L1058.6,1023.5 L1060.0,1026.1 L1061.5,1028.7 L1062.9,1031.3 L1064.4,1034.0 L1065.9,1036.6 L1067.3,1039.2 L1068.8,1041.8 L1070.3,1044.4 L1071.7,1047.0 L1073.3,1049.6 L1075.0,1052.1 L1076.7,1054.5 L1078.5,1056.9 L1080.3,1059.3 L1082.1,1061.7 L1083.8,1064.2 L1085.6,1066.6 L1087.4,1069.0 L1089.1,1071.4 L1090.9,1073.9 L1092.7,1076.3 L1094.6,1078.6 L1096.5,1080.9 L1098.4,1083.2 L1100.4,1085.5 L1102.3,1087.8 L1104.2,1090.1 L1106.2,1092.4 L1108.1,1094.7 L1110.0,1097.0 L1111.9,1099.3 L1113.7,1101.7 L1115.4,1104.1 L1117.1,1106.6 L1118.8,1109.1 L1120.7,1111.4 L1122.6,1113.7 L1124.7,1115.9 L1126.8,1118.0 L1128.8,1120.2 L1130.7,1122.5 L1132.5,1124.9 L1134.0,1127.4 L1135.6,1130.0 L1137.1,1132.6 L1138.5,1135.2 L1140.0,1137.8 L1141.5,1140.5 L1142.9,1143.1 L1144.4,1145.7 L1145.9,1148.3 L1147.5,1150.8 L1149.3,1153.1 L1151.2,1155.4 L1153.2,1157.7 L1155.0,1160.1 L1156.6,1162.6 L1158.1,1165.2 L1159.5,1167.8 L1161.0,1170.4 L1162.3,1173.1 L1163.7,1175.8 L1165.1,1178.4 L1166.4,1181.1 L1167.8,1183.8 L1169.2,1186.4 L1170.8,1189.0 L1172.4,1191.5 L1174.1,1193.9 L1175.9,1196.4 L1177.5,1198.9 L1179.1,1201.4 L1180.5,1204.0 L1181.9,1206.7 L1183.2,1209.4 L1184.5,1212.1 L1185.7,1214.9 L1186.8,1217.7 L1187.8,1220.5 L1188.9,1223.2 L1190.2,1226.0 L1191.5,1228.6 L1193.1,1231.2 L1194.6,1233.7 L1196.2,1236.3 L1197.8,1238.8 L1199.3,1241.4 L1200.8,1244.0 L1202.2,1246.6 L1203.7,1249.3 L1205.2,1251.9 L1206.6,1254.5 L1208.1,1257.1 L1209.6,1259.7 L1211.1,1262.3 L1212.6,1264.9 L1214.1,1267.5 L1215.7,1270.1 L1217.3,1272.6 L1218.9,1275.1 L1220.5,1277.7 L1222.1,1280.2 L1223.6,1282.8 L1225.1,1285.4 L1226.4,1288.1 L1227.7,1290.8 L1229.0,1293.5 L1230.4,1296.2 L1231.8,1298.8 L1233.3,1301.4 L1234.9,1303.9 L1236.6,1306.4 L1238.2,1308.9 L1239.8,1311.4 L1241.5,1313.9 L1243.1,1316.4 L1244.8,1319.0 L1246.4,1321.5 L1248.0,1324.0 L1249.6,1326.5 L1251.2,1329.1 L1252.7,1331.7 L1254.3,1334.2 L1255.8,1336.8 L1257.5,1339.3 L1259.3,1341.7 L1261.2,1343.9 L1263.3,1346.1 L1265.4,1348.2 L1267.5,1350.3 L1269.6,1352.4 L1271.8,1354.6 L1273.9,1356.7 L1276.0,1358.8 L1278.1,1360.9 L1280.3,1363.1 L1282.4,1365.2 L1284.5,1367.3 L1286.6,1369.4 L1288.8,1371.5 L1291.0,1373.5 L1293.3,1375.4 L1295.7,1377.3 L1298.0,1379.1 L1300.4,1380.9 L1302.8,1382.7 L1305.2,1384.5 L1307.6,1386.3 L1310.0,1388.1 L1312.5,1389.9 L1314.9,1391.7 L1317.3,1393.5 L1319.7,1395.2 L1322.1,1397.0 L1324.6,1398.7 L1327.0,1400.4 L1329.5,1402.1 L1332.0,1403.8 L1334.6,1405.3 L1337.2,1406.8 L1339.8,1408.2 L1342.5,1409.6 L1345.1,1411.0 L1347.8,1412.4 L1350.4,1413.9 L1353.0,1415.3 L1355.6,1416.8 L1358.3,1418.3 L1360.9,1419.7 L1363.5,1421.2 L1366.1,1422.6 L1368.8,1424.0 L1371.5,1425.3 L1374.2,1426.6 L1376.9,1428.0 L1379.5,1429.3 L1382.2,1430.7 L1384.9,1432.0 L1387.6,1433.4 L1390.2,1434.8 L1392.9,1436.1 L1395.6,1437.4 L1398.3,1438.7 L1401.1,1439.9 L1403.8,1441.1 L1406.6,1442.3 L1409.3,1443.5 L1412.1,1444.7 L1414.9,1445.8 L1417.6,1446.9 L1420.4,1448.0 L1423.2,1449.1 L1426.0,1450.3 L1428.8,1451.4 L1431.5,1452.6 L1434.2,1453.9 L1436.9,1455.2 L1439.6,1456.5 L1442.3,1457.8 L1445.0,1459.1 L1447.7,1460.5 L1450.4,1461.8 L1453.1,1463.1 L1455.8,1464.4 L1458.5,1465.8 L1461.2,1467.1 L1463.9,1468.4 L1466.6,1469.6 L1469.4,1470.8 L1472.1,1471.9 L1474.9,1473.0 L1477.7,1474.1 L1480.5,1475.2 L1483.3,1476.4 L1486.0,1477.6 L1488.7,1478.8 L1491.4,1480.1 L1494.1,1481.4 L1496.8,1482.8 L1499.6,1484.0 L1502.3,1485.3 L1505.0,1486.5 L1507.8,1487.6 L1510.6,1488.6 L1513.4,1489.7 L1516.2,1490.8 L1519.0,1491.8 L1521.9,1492.9 L1524.7,1493.9 L1527.5,1495.0 L1530.3,1496.0 L1533.1,1497.1 L1535.9,1498.1 L1538.7,1499.1 L1541.6,1500.1 L1544.4,1501.0 L1547.3,1501.9 L1550.1,1502.9 L1553.0,1503.8 L1555.9,1504.7 L1558.7,1505.6 L1561.6,1506.4 L1564.5,1507.3 L1567.3,1508.2 L1570.2,1509.0 L1573.1,1509.9 L1576.0,1510.8 L1578.8,1511.6 L1581.7,1512.5 L1584.6,1513.3 L1587.5,1514.2 L1590.3,1515.0 L1593.2,1515.8 L1596.1,1516.6 L1599.0,1517.4 L1601.9,1518.1 L1604.8,1518.8 L1607.8,1519.5 L1610.7,1520.2 L1613.6,1520.8 L1616.5,1521.5 L1619.5,1522.0 L1622.4,1522.6 L1625.4,1523.2 L1628.3,1523.8 L1631.3,1524.4 L1634.2,1525.0 L1637.1,1525.6 L1640.1,1526.1 L1643.0,1526.7 L1646.0,1527.3 L1648.9,1527.8 L1651.9,1528.3 L1654.9,1528.7 L1657.8,1529.2 L1660.8,1529.6 L1663.8,1530.1 L1666.7,1530.5 L1669.7,1531.0 L1672.6,1531.5 L1675.6,1531.9 L1678.6,1532.4 L1681.5,1532.9 L1684.5,1533.5 L1687.4,1534.1 L1690.3,1534.8 L1693.3,1535.4 L1696.2,1536.1 L1699.1,1536.7 L1702.1,1537.3 L1705.0,1537.8 L1708.0,1538.3 L1710.9,1538.8 L1713.9,1539.3 L1716.9,1539.7 L1719.8,1540.2 L1722.8,1540.6 L1725.8,1541.0 L1728.7,1541.4 L1731.7,1541.7 L1734.7,1542.1 L1737.7,1542.4 L1740.7,1542.7 L1743.6,1543.0 L1746.6,1543.3 L1749.6,1543.6 L1752.6,1543.9 L1755.6,1544.2 L1758.6,1544.4 L1761.6,1544.7 L1764.6,1544.9 L1767.6,1545.1 L1770.5,1545.4 L1773.5,1545.7 L1776.5,1546.0 L1779.5,1546.3 L1782.5,1546.7 L1785.4,1547.1 L1788.4,1547.5 L1791.4,1547.9 L1794.4,1548.3 L1797.3,1548.7 L1800.3,1549.3 L1803.2,1549.9 L1806.1,1550.6 L1809.0,1551.4 L1811.9,1552.1 L1814.8,1552.8 L1817.8,1553.4 L1820.7,1554.0 L1823.6,1554.6 L1826.6,1555.2 L1829.5,1555.7 L1832.5,1556.0 L1835.5,1556.1 L1838.5,1556.2 L1841.5,1556.3 L1844.5,1556.4 L1847.5,1556.5 L1850.5,1556.6 L1853.5,1556.7 L1856.5,1556.8 L1859.5,1556.9 L1862.5,1557.0 L1865.5,1557.1 L1868.5,1557.2 L1871.5,1557.3 L1874.5,1557.5 L1877.5,1557.6 L1880.5,1557.8 L1883.5,1557.9 L1886.5,1558.1 L1889.5,1558.2 L1892.5,1558.4 L1895.4,1558.5 L1898.4,1558.7 L1901.4,1558.8 L1904.4,1559.0 L1907.4,1559.1 L1910.4,1559.3 L1913.4,1559.4 L1916.4,1559.5 L1919.4,1559.6 L1922.4,1559.6 L1925.4,1559.6 L1928.4,1559.7 L1931.4,1559.7 L1934.4,1559.8 L1937.4,1559.8 L1940.4,1559.9 L1943.4,1559.9 L1946.4,1559.9 L1949.4,1560.0 L1952.4,1560.0 L1955.4,1560.1 L1958.4,1560.1 L1961.4,1560.2 L1964.4,1560.2 L1967.4,1560.2 L1970.4,1560.3 L1973.4,1560.3 L1976.4,1560.4 L1979.4,1560.4 L1982.4,1560.5 L1985.4,1560.5 L1988.4,1560.6 L1991.4,1560.6 L1994.4,1560.7 L1997.4,1560.7 L2000.4,1560.8 L2003.4,1560.9 L2006.4,1560.9 L2009.4,1561.0 L2012.4,1561.0 L2015.4,1561.1 L2018.4,1561.2 L2021.4,1561.2 L2024.4,1561.3 L2027.4,1561.3 L2030.4,1561.4 L2033.4,1561.5 L2036.4,1561.5 L2039.4,1561.6 L2042.4,1561.6 L2045.4,1561.7 L2048.4,1561.8 L2051.4,1561.8 L2054.4,1561.9 L2057.4,1561.9 L2060.4,1562.0 L2063.4,1562.1 L2066.4,1562.1 L2069.4,1562.2 L2072.4,1562.2 L2075.4,1562.3 L2078.4,1562.3 L2081.4,1562.4 L2084.4,1562.5 L2087.4,1562.5 L2090.4,1562.5 L2093.4,1562.5 L2096.4,1562.5 L2099.4,1562.6 L2102.4,1562.6 L2105.4,1562.6 L2108.4,1562.6 L2111.4,1562.6 L2114.4,1562.6 L2117.4,1562.6 L2120.4,1562.6 L2123.4,1562.6 L2126.4,1562.7 L2129.4,1562.7 L2132.4,1562.7 L2135.4,1562.7 L2138.4,1562.7 L2141.4,1562.7 L2144.4,1562.7 L2147.4,1562.7 L2150.4,1562.8 L2153.4,1562.8 L2156.4,1562.8 L2159.4,1562.8 L2162.4,1562.8 L2165.4,1562.8 L2168.4,1562.8 L2171.4,1562.8 L2174.4,1562.8 L2177.4,1562.9 L2180.4,1562.9 L2183.4,1562.9 L2186.4,1562.9 L2189.4,1562.9 L2192.4,1562.9 L2195.4,1562.9 L2198.4,1562.9 L2201.4,1563.0 L2204.4,1563.0 L2207.3,1563.0 L2210.2,1563.0 L2213.0,1563.0" fill="none" stroke="#0000ff" stroke-width="9" stroke-linejoin="round" stroke-linecap="round"/>
<path d="M382.5,1561.3 L385.6,1560.9 L388.5,1560.5 L391.4,1560.1 L394.4,1559.7 L397.4,1559.3 L400.3,1559.0 L403.3,1558.5 L406.3,1558.1 L409.2,1557.5 L412.1,1556.8 L415.0,1556.1 L417.9,1555.3 L420.8,1554.5 L423.7,1553.7 L426.6,1552.9 L429.5,1552.0 L432.4,1551.2 L435.2,1550.3 L438.1,1549.4 L440.9,1548.5 L443.8,1547.5 L446.6,1546.6 L449.5,1545.6 L452.3,1544.7 L455.1,1543.7 L458.0,1542.7 L460.7,1541.5 L463.4,1540.2 L466.0,1538.7 L468.6,1537.2 L471.2,1535.7 L473.7,1534.2 L476.3,1532.6 L478.8,1530.9 L481.2,1529.1 L483.5,1527.3 L485.9,1525.4 L488.2,1523.5 L490.5,1521.6 L492.8,1519.7 L495.1,1517.7 L497.1,1515.6 L499.1,1513.3 L501.0,1511.0 L502.8,1508.6 L504.5,1506.2 L506.2,1503.7 L507.7,1501.1 L509.2,1498.5 L510.6,1495.9 L512.0,1493.2 L513.4,1490.6 L514.8,1487.9 L516.2,1485.2 L517.5,1482.5 L518.8,1479.8 L520.1,1477.1 L521.3,1474.4 L522.6,1471.7 L523.9,1469.0 L525.2,1466.3 L526.4,1463.5 L527.6,1460.8 L528.8,1458.0 L529.9,1455.3 L531.1,1452.5 L532.3,1449.7 L533.4,1446.9 L534.5,1444.2 L535.6,1441.4 L536.7,1438.6 L537.8,1435.8 L538.8,1433.0 L539.9,1430.2 L540.9,1427.3 L542.0,1424.5 L543.0,1421.7 L543.9,1418.9 L544.9,1416.0 L545.8,1413.2 L546.7,1410.3 L547.6,1407.5 L548.6,1404.6 L549.5,1401.7 L550.4,1398.9 L551.2,1396.0 L552.0,1393.1 L552.8,1390.2 L553.5,1387.3 L554.3,1384.4 L555.0,1381.5 L555.7,1378.6 L556.5,1375.7 L557.2,1372.8 L557.8,1369.8 L558.5,1366.9 L559.1,1364.0 L559.7,1361.0 L560.3,1358.1 L560.8,1355.1 L561.4,1352.2 L562.0,1349.3 L562.6,1346.3 L563.1,1343.4 L563.7,1340.4 L564.2,1337.4 L564.7,1334.5 L565.2,1331.5 L565.6,1328.6 L566.1,1325.6 L566.6,1322.7 L567.1,1319.7 L567.7,1316.7 L568.2,1313.8 L568.8,1310.8 L569.4,1307.9 L570.0,1305.0 L570.6,1302.0 L571.2,1299.1 L571.8,1296.1 L572.3,1293.2 L572.9,1290.3 L573.5,1287.3 L574.1,1284.4 L574.7,1281.4 L575.3,1278.5 L575.8,1275.5 L576.3,1272.6 L576.9,1269.6 L577.4,1266.7 L577.9,1263.7 L578.4,1260.8 L579.0,1257.8 L579.5,1254.9 L580.0,1251.9 L580.5,1249.0 L581.1,1246.0 L581.6,1243.1 L582.1,1240.1 L582.7,1237.1 L583.2,1234.2 L583.7,1231.2 L584.2,1228.3 L584.8,1225.3 L585.3,1222.4 L585.8,1219.4 L586.3,1216.5 L586.9,1213.5 L587.4,1210.6 L587.9,1207.6 L588.4,1204.7 L589.0,1201.7 L589.5,1198.8 L590.0,1195.8 L590.5,1192.8 L591.1,1189.9 L591.6,1186.9 L592.1,1184.0 L592.6,1181.0 L593.1,1178.1 L593.6,1175.1 L594.0,1172.1 L594.5,1169.2 L594.9,1166.2 L595.4,1163.2 L595.8,1160.3 L596.3,1157.3 L596.7,1154.3 L597.1,1151.4 L597.6,1148.4 L598.0,1145.4 L598.5,1142.5 L598.9,1139.5 L599.4,1136.5 L599.8,1133.6 L600.1,1130.6 L600.5,1127.6 L600.8,1124.6 L601.1,1121.6 L601.4,1118.7 L601.8,1115.7 L602.1,1112.7 L602.4,1109.7 L602.7,1106.7 L603.0,1103.7 L603.4,1100.8 L603.7,1097.8 L604.0,1094.8 L604.3,1091.8 L604.7,1088.8 L605.0,1085.8 L605.3,1082.9 L605.7,1079.9 L606.0,1076.9 L606.3,1073.9 L606.6,1070.9 L607.0,1068.0 L607.3,1065.0 L607.6,1062.0 L608.0,1059.0 L608.3,1056.0 L608.6,1053.0 L609.0,1050.1 L609.3,1047.1 L609.6,1044.1 L610.0,1041.1 L610.4,1038.2 L610.8,1035.2 L611.2,1032.2 L611.6,1029.2 L612.0,1026.3 L612.4,1023.3 L612.8,1020.3 L613.2,1017.3 L613.6,1014.4 L614.0,1011.4 L614.4,1008.4 L614.8,1005.4 L615.2,1002.5 L615.5,999.5 L615.9,996.5 L616.3,993.5 L616.7,990.6 L617.0,987.6 L617.4,984.6 L617.8,981.6 L618.2,978.7 L618.5,975.7 L618.9,972.7 L619.2,969.7 L619.6,966.7 L619.9,963.8 L620.3,960.8 L620.7,957.8 L621.0,954.8 L621.4,951.9 L621.7,948.9 L622.1,945.9 L622.5,942.9 L622.8,939.9 L623.2,937.0 L623.5,934.0 L623.9,931.0 L624.2,928.0 L624.6,925.0 L625.0,922.1 L625.3,919.1 L625.6,916.1 L626.0,913.1 L626.3,910.1 L626.6,907.2 L626.9,904.2 L627.2,901.2 L627.5,898.2 L627.8,895.2 L628.1,892.2 L628.4,889.2 L628.7,886.3 L629.0,883.3 L629.3,880.3 L629.6,877.3 L629.9,874.3 L630.2,871.3 L630.4,868.3 L630.8,865.4 L631.1,862.4 L631.4,859.4 L631.8,856.4 L632.1,853.4 L632.5,850.5 L632.9,847.5 L633.2,844.5 L633.6,841.5 L634.0,838.6 L634.3,835.6 L634.7,832.6 L635.1,829.6 L635.5,826.6 L635.8,823.7 L636.2,820.7 L636.6,817.7 L637.0,814.7 L637.3,811.8 L637.7,808.8 L638.1,805.8 L638.5,802.8 L638.9,799.9 L639.2,796.9 L639.6,793.9 L640.0,790.9 L640.4,788.0 L640.7,785.0 L641.1,782.0 L641.5,779.0 L641.8,776.1 L642.2,773.1 L642.6,770.1 L643.0,767.1 L643.3,764.1 L643.7,761.2 L644.1,758.2 L644.4,755.2 L644.8,752.2 L645.2,749.3 L645.6,746.3 L645.9,743.3 L646.3,740.3 L646.7,737.3 L647.0,734.4 L647.4,731.4 L647.8,728.4 L648.1,725.4 L648.5,722.5 L648.9,719.5 L649.2,716.5 L649.6,713.5 L649.9,710.5 L650.2,707.6 L650.5,704.6 L650.8,701.6 L651.1,698.6 L651.5,695.6 L651.8,692.6 L652.1,689.7 L652.4,686.7 L652.7,683.7 L653.1,680.7 L653.4,677.7 L653.8,674.8 L654.3,671.8 L654.7,668.8 L655.1,665.9 L655.5,662.9 L655.9,659.9 L656.4,656.9 L656.8,654.0 L657.2,651.0 L657.6,648.0 L658.0,645.1 L658.4,642.1 L658.9,639.1 L659.3,636.1 L659.7,633.2 L660.1,630.2 L660.5,627.2 L660.9,624.3 L661.3,621.3 L661.7,618.3 L662.1,615.3 L662.5,612.4 L662.9,609.4 L663.3,606.4 L663.6,603.4 L664.0,600.5 L664.4,597.5 L664.8,594.5 L665.2,591.5 L665.6,588.6 L666.0,585.6 L666.4,582.6 L666.9,579.7 L667.4,576.7 L667.9,573.8 L668.5,570.8 L669.1,567.9 L669.7,564.9 L670.3,562.0 L670.9,559.0 L671.4,556.1 L672.0,553.2 L672.6,550.2 L673.2,547.3 L673.8,544.3 L674.3,541.4 L674.9,538.4 L675.4,535.5 L675.9,532.5 L676.4,529.6 L677.0,526.6 L677.5,523.7 L678.0,520.7 L678.5,517.7 L679.0,514.8 L679.6,511.8 L680.1,508.9 L680.7,506.0 L681.4,503.0 L682.0,500.1 L682.7,497.2 L683.4,494.3 L684.1,491.3 L684.7,488.4 L685.4,485.5 L686.2,482.6 L687.0,479.7 L687.9,476.9 L689.0,474.1 L690.1,471.3 L691.2,468.5 L692.4,465.8 L693.7,463.1 L695.4,460.7 L697.3,458.5 L699.4,456.6 L701.7,455.0 L704.2,454.3 L706.8,454.5 L709.3,455.5 L711.7,457.1 L713.9,459.1 L715.8,461.3 L717.5,463.8 L719.0,466.3 L720.4,469.0 L721.6,471.7 L722.6,474.5 L723.6,477.4 L724.4,480.2 L725.2,483.1 L726.0,486.0 L726.8,488.9 L727.5,491.8 L728.2,494.7 L728.9,497.7 L729.5,500.6 L730.1,503.5 L730.7,506.5 L731.3,509.4 L731.9,512.4 L732.5,515.3 L733.2,518.2 L733.9,521.1 L734.7,524.0 L735.6,526.9 L736.6,529.7 L737.5,532.5 L738.5,535.4 L739.4,538.2 L740.4,541.1 L741.3,543.9 L742.3,546.8 L743.2,549.6 L744.1,552.5 L745.1,555.3 L746.0,558.2 L746.9,561.0 L747.8,563.9 L748.7,566.8 L749.6,569.6 L750.4,572.5 L751.2,575.4 L752.0,578.3 L752.7,581.2 L753.4,584.1 L754.1,587.1 L754.8,590.0 L755.5,592.9 L756.3,595.8 L757.1,598.7 L757.9,601.5 L758.8,604.4 L759.7,607.3 L760.6,610.1 L761.5,613.0 L762.4,615.9 L763.4,618.7 L764.4,621.5 L765.5,624.3 L766.6,627.1 L767.7,629.9 L768.8,632.7 L769.9,635.5 L771.1,638.2 L772.2,641.0 L773.2,643.8 L774.2,646.7 L775.1,649.5 L775.9,652.4 L776.7,655.3 L777.4,658.2 L778.2,661.1 L779.0,664.0 L779.8,666.9 L780.7,669.7 L781.8,672.5 L783.0,675.2 L784.5,677.8 L786.1,680.3 L787.9,682.7 L789.7,685.1 L791.6,687.4 L793.5,689.7 L795.5,691.9 L797.6,694.0 L799.9,695.9 L802.3,697.6 L804.9,698.9 L807.7,699.7 L810.6,700.1 L813.6,700.2 L816.5,700.0 L819.4,699.5 L822.1,698.4 L824.6,697.0 L827.0,695.3 L829.4,693.4 L831.7,691.5 L834.0,689.6 L836.3,687.7 L838.7,685.9 L841.1,684.2 L843.6,682.4 L846.0,680.6 L848.3,678.8 L850.7,677.0 L853.2,675.4 L855.8,674.0 L858.6,673.0 L861.4,672.3 L864.4,672.0 L867.3,672.0 L870.3,672.2 L873.2,672.7 L876.1,673.3 L879.0,674.2 L881.7,675.3 L884.4,676.6 L886.8,678.2 L889.1,680.1 L891.1,682.2 L892.8,684.6 L894.1,687.2 L895.3,689.9 L896.3,692.7 L897.4,695.5 L898.7,698.2 L900.0,700.9 L901.3,703.6 L902.7,706.3 L904.0,709.0 L905.4,711.6 L906.9,714.2 L908.4,716.9 L909.8,719.5 L911.1,722.2 L912.3,724.9 L913.4,727.7 L914.4,730.5 L915.3,733.4 L916.3,736.2 L917.2,739.1 L918.1,741.9 L918.9,744.8 L919.8,747.7 L920.7,750.6 L921.5,753.4 L922.3,756.3 L923.1,759.2 L923.9,762.1 L924.6,765.0 L925.4,767.9 L926.1,770.8 L926.9,773.7 L927.6,776.6 L928.4,779.5 L929.2,782.4 L930.0,785.3 L930.8,788.2 L931.6,791.1 L932.5,794.0 L933.3,796.9 L934.2,799.7 L935.0,802.6 L935.9,805.5 L936.7,808.4 L937.5,811.2 L938.3,814.1 L939.1,817.0 L939.9,819.9 L940.7,822.8 L941.5,825.7 L942.3,828.6 L943.0,831.5 L943.8,834.4 L944.5,837.3 L945.3,840.2 L946.0,843.1 L946.7,846.0 L947.5,849.0 L948.2,851.9 L948.9,854.8 L949.7,857.7 L950.4,860.6 L951.1,863.5 L951.8,866.4 L952.6,869.3 L953.3,872.2 L954.0,875.2 L954.7,878.1 L955.4,881.0 L956.2,883.9 L956.9,886.8 L957.6,889.7 L958.3,892.6 L959.1,895.5 L959.8,898.4 L960.5,901.4 L961.2,904.3 L962.0,907.2 L962.7,910.1 L963.4,913.0 L964.2,915.9 L965.0,918.8 L965.8,921.7 L966.7,924.5 L967.6,927.4 L968.5,930.3 L969.3,933.1 L970.2,936.0 L971.0,938.9 L971.7,941.8 L972.4,944.7 L973.1,947.6 L973.9,950.6 L974.6,953.5 L975.3,956.4 L976.1,959.3 L976.8,962.2 L977.5,965.1 L978.3,968.0 L979.0,970.9 L979.7,973.8 L980.5,976.7 L981.2,979.6 L981.9,982.6 L982.7,985.5 L983.4,988.4 L984.1,991.3 L984.8,994.2 L985.6,997.1 L986.3,1000.0 L987.0,1002.9 L987.7,1005.8 L988.5,1008.8 L989.2,1011.7 L990.0,1014.6 L990.7,1017.5 L991.5,1020.4 L992.4,1023.2 L993.2,1026.1 L994.0,1029.0 L994.8,1031.9 L995.7,1034.8 L996.5,1037.7 L997.3,1040.5 L998.2,1043.4 L999.2,1046.2 L1000.3,1049.0 L1001.4,1051.8 L1002.5,1054.6 L1003.6,1057.4 L1004.8,1060.2 L1005.9,1062.9 L1007.0,1065.7 L1008.1,1068.5 L1009.2,1071.3 L1010.2,1074.1 L1011.2,1077.0 L1012.2,1079.8 L1013.1,1082.6 L1014.0,1085.5 L1015.0,1088.3 L1015.9,1091.2 L1016.9,1094.0 L1017.8,1096.9 L1018.8,1099.7 L1019.7,1102.6 L1020.7,1105.4 L1021.6,1108.3 L1022.6,1111.1 L1023.5,1114.0 L1024.5,1116.8 L1025.6,1119.6 L1026.8,1122.3 L1028.1,1125.0 L1029.6,1127.6 L1031.0,1130.3 L1032.4,1132.9 L1033.9,1135.5 L1035.4,1138.1 L1037.0,1140.6 L1038.8,1143.0 L1040.6,1145.4 L1042.5,1147.7 L1044.2,1150.2 L1045.8,1152.7 L1047.2,1155.3 L1048.6,1158.0 L1050.0,1160.6 L1051.4,1163.3 L1052.9,1165.9 L1054.3,1168.5 L1055.9,1171.1 L1057.4,1173.6 L1059.0,1176.2 L1060.6,1178.7 L1062.2,1181.3 L1063.9,1183.7 L1065.7,1186.1 L1067.6,1188.4 L1069.7,1190.6 L1071.7,1192.7 L1073.9,1194.9 L1076.0,1197.0 L1078.1,1199.1 L1080.2,1201.3 L1082.3,1203.4 L1084.4,1205.5 L1086.5,1207.7 L1088.6,1209.8 L1090.8,1211.9 L1093.0,1213.9 L1095.2,1216.0 L1097.4,1218.0 L1099.7,1219.9 L1101.9,1221.9 L1104.2,1223.9 L1106.4,1225.9 L1108.5,1228.0 L1110.7,1230.1 L1112.8,1232.2 L1114.9,1234.3 L1117.1,1236.5 L1119.2,1238.6 L1121.3,1240.7 L1123.4,1242.8 L1125.5,1244.9 L1127.7,1247.1 L1129.7,1249.2 L1131.7,1251.5 L1133.7,1253.8 L1135.5,1256.1 L1137.3,1258.5 L1139.1,1260.9 L1141.0,1263.2 L1143.0,1265.5 L1145.1,1267.5 L1147.3,1269.5 L1149.6,1271.5 L1151.8,1273.5 L1153.9,1275.6 L1155.8,1277.9 L1157.7,1280.3 L1159.5,1282.6 L1161.3,1285.0 L1163.2,1287.4 L1165.1,1289.7 L1167.1,1291.9 L1169.2,1294.0 L1171.3,1296.2 L1173.4,1298.3 L1175.3,1300.6 L1177.1,1303.0 L1178.8,1305.4 L1180.5,1307.9 L1182.2,1310.4 L1183.8,1312.9 L1185.5,1315.4 L1187.3,1317.8 L1189.0,1320.3 L1190.8,1322.7 L1192.6,1325.0 L1194.5,1327.4 L1196.3,1329.8 L1198.1,1332.2 L1199.9,1334.6 L1201.6,1337.0 L1203.4,1339.4 L1205.2,1341.8 L1207.1,1344.2 L1209.0,1346.6 L1210.9,1348.9 L1212.8,1351.1 L1214.8,1353.4 L1216.7,1355.7 L1218.7,1358.0 L1220.6,1360.3 L1222.6,1362.5 L1224.5,1364.8 L1226.5,1367.1 L1228.5,1369.3 L1230.5,1371.6 L1232.5,1373.8 L1234.6,1376.0 L1236.6,1378.2 L1238.7,1380.3 L1240.7,1382.5 L1242.8,1384.7 L1244.8,1386.9 L1246.9,1389.1 L1249.0,1391.2 L1251.0,1393.4 L1253.1,1395.6 L1255.2,1397.7 L1257.3,1399.8 L1259.5,1401.9 L1261.7,1404.0 L1263.9,1406.0 L1266.1,1408.1 L1268.3,1410.1 L1270.6,1412.0 L1272.9,1413.9 L1275.3,1415.7 L1277.7,1417.5 L1280.1,1419.3 L1282.5,1421.1 L1284.9,1422.8 L1287.4,1424.6 L1289.8,1426.3 L1292.3,1428.0 L1294.8,1429.6 L1297.3,1431.3 L1299.8,1433.0 L1302.3,1434.6 L1304.8,1436.3 L1307.4,1437.8 L1309.9,1439.4 L1312.5,1440.9 L1315.1,1442.5 L1317.7,1444.0 L1320.3,1445.4 L1323.0,1446.8 L1325.7,1448.1 L1328.4,1449.2 L1331.3,1450.2 L1334.1,1451.3 L1336.9,1452.3 L1339.7,1453.4 L1342.4,1454.5 L1345.2,1455.8 L1347.9,1457.1 L1350.6,1458.4 L1353.2,1459.7 L1355.9,1461.1 L1358.7,1462.3 L1361.4,1463.5 L1364.2,1464.7 L1366.9,1465.8 L1369.7,1467.0 L1372.5,1468.1 L1375.3,1469.3 L1378.1,1470.4 L1380.8,1471.5 L1383.6,1472.5 L1386.5,1473.6 L1389.3,1474.7 L1392.1,1475.7 L1394.9,1476.7 L1397.7,1477.7 L1400.6,1478.6 L1403.5,1479.5 L1406.3,1480.4 L1409.2,1481.3 L1412.0,1482.2 L1414.9,1483.1 L1417.8,1484.0 L1420.6,1485.0 L1423.5,1485.9 L1426.3,1486.8 L1429.2,1487.7 L1432.1,1488.6 L1434.9,1489.4 L1437.8,1490.2 L1440.7,1490.9 L1443.6,1491.7 L1446.5,1492.5 L1449.4,1493.3 L1452.3,1494.2 L1455.2,1495.0 L1458.1,1495.8 L1460.9,1496.7 L1463.8,1497.5 L1466.7,1498.4 L1469.5,1499.3 L1472.4,1500.3 L1475.2,1501.2 L1478.1,1502.2 L1480.9,1503.1 L1483.8,1504.1 L1486.6,1505.0 L1489.5,1505.9 L1492.3,1506.9 L1495.2,1507.8 L1498.0,1508.7 L1500.9,1509.6 L1503.8,1510.5 L1506.6,1511.3 L1509.5,1512.1 L1512.4,1512.8 L1515.3,1513.6 L1518.2,1514.3 L1521.2,1515.1 L1524.1,1515.8 L1527.0,1516.5 L1529.9,1517.3 L1532.8,1518.0 L1535.7,1518.7 L1538.6,1519.4 L1541.5,1520.1 L1544.5,1520.8 L1547.4,1521.4 L1550.3,1522.1 L1553.3,1522.7 L1556.2,1523.3 L1559.1,1523.9 L1562.1,1524.5 L1565.0,1525.0 L1568.0,1525.5 L1570.9,1526.0 L1573.9,1526.5 L1576.9,1527.0 L1579.8,1527.6 L1582.8,1528.1 L1585.7,1528.6 L1588.7,1529.1 L1591.6,1529.6 L1594.6,1530.1 L1597.6,1530.5 L1600.5,1531.0 L1603.5,1531.4 L1606.5,1531.8 L1609.4,1532.2 L1612.4,1532.6 L1615.4,1533.0 L1618.4,1533.4 L1621.3,1533.8 L1624.3,1534.3 L1627.3,1534.7 L1630.2,1535.1 L1633.2,1535.5 L1636.2,1535.9 L1639.2,1536.3 L1642.1,1536.8 L1645.1,1537.2 L1648.1,1537.5 L1651.1,1537.9 L1654.0,1538.2 L1657.0,1538.5 L1660.0,1538.8 L1663.0,1539.1 L1666.0,1539.4 L1669.0,1539.7 L1672.0,1539.9 L1674.9,1540.2 L1677.9,1540.5 L1680.9,1540.8 L1683.9,1541.0 L1686.9,1541.2 L1689.9,1541.4 L1692.9,1541.6 L1695.9,1541.7 L1698.9,1541.9 L1701.9,1542.1 L1704.9,1542.3 L1707.9,1542.6 L1710.8,1542.8 L1713.8,1543.0 L1716.8,1543.2 L1719.8,1543.5 L1722.8,1543.7 L1725.8,1543.9 L1728.8,1544.2 L1731.8,1544.5 L1734.8,1544.8 L1737.7,1545.1 L1740.7,1545.4 L1743.7,1545.7 L1746.7,1546.0 L1749.7,1546.3 L1752.7,1546.5 L1755.7,1546.7 L1758.7,1546.9 L1761.7,1547.1 L1764.6,1547.2 L1767.6,1547.4 L1770.6,1547.6 L1773.6,1547.7 L1776.6,1547.9 L1779.6,1548.0 L1782.6,1548.2 L1785.6,1548.5 L1788.5,1549.0 L1791.3,1549.8 L1794.1,1550.8 L1797.0,1551.8 L1799.8,1552.5 L1802.8,1552.9 L1805.7,1553.1 L1808.7,1553.3 L1811.7,1553.4 L1814.7,1553.5 L1817.7,1553.7 L1820.7,1553.8 L1823.7,1553.9 L1826.7,1554.1 L1829.7,1554.2 L1832.7,1554.3 L1835.7,1554.4 L1838.7,1554.5 L1841.7,1554.6 L1844.7,1554.8 L1847.7,1554.9 L1850.7,1555.0 L1853.7,1555.1 L1856.7,1555.2 L1859.7,1555.3 L1862.7,1555.4 L1865.7,1555.6 L1868.7,1555.8 L1871.7,1556.0 L1874.7,1556.2 L1877.6,1556.4 L1880.6,1556.6 L1883.6,1556.8 L1886.6,1557.0 L1889.6,1557.2 L1892.6,1557.4 L1895.6,1557.6 L1898.6,1557.9 L1901.6,1558.1 L1904.6,1558.3 L1907.6,1558.5 L1910.6,1558.7 L1913.6,1558.9 L1916.6,1559.0 L1919.6,1559.2 L1922.6,1559.3 L1925.5,1559.4 L1928.5,1559.5 L1931.5,1559.7 L1934.5,1559.8 L1937.5,1559.9 L1940.5,1560.0 L1943.5,1560.1 L1946.5,1560.3 L1949.5,1560.4 L1952.5,1560.5 L1955.5,1560.6 L1958.5,1560.7 L1961.5,1560.8 L1964.5,1560.9 L1967.5,1560.9 L1970.5,1561.0 L1973.5,1561.0 L1976.5,1561.1 L1979.5,1561.1 L1982.5,1561.2 L1985.5,1561.2 L1988.5,1561.2 L1991.5,1561.3 L1994.5,1561.3 L1997.5,1561.4 L2000.5,1561.4 L2003.5,1561.5 L2006.5,1561.5 L2009.5,1561.6 L2012.5,1561.6 L2015.5,1561.6 L2018.5,1561.7 L2021.5,1561.7 L2024.5,1561.8 L2027.5,1561.8 L2030.5,1561.9 L2033.5,1561.9 L2036.5,1562.0 L2039.5,1562.0 L2042.5,1562.0 L2045.5,1562.1 L2048.5,1562.1 L2051.5,1562.2 L2054.5,1562.2 L2057.5,1562.3 L2060.5,1562.3 L2063.5,1562.3 L2066.5,1562.4 L2069.5,1562.5 L2072.5,1562.6 L2075.5,1562.7 L2078.5,1563.0 L2081.5,1563.3 L2084.5,1563.5 L2087.4,1563.7 L2090.4,1563.8 L2093.4,1563.8 L2096.4,1563.8 L2099.4,1563.9 L2102.4,1563.9 L2105.4,1563.9 L2108.4,1563.9 L2111.4,1563.9 L2114.4,1563.9 L2117.4,1563.9 L2120.4,1564.0 L2123.4,1564.0 L2126.4,1564.0 L2129.4,1564.0 L2132.4,1564.0 L2135.4,1564.0 L2138.4,1564.0 L2141.4,1564.1 L2144.4,1564.1 L2147.4,1564.1 L2150.4,1564.1 L2153.4,1564.1 L2156.4,1564.1 L2159.4,1564.1 L2162.4,1564.2 L2165.4,1564.2 L2168.4,1564.2 L2171.4,1564.2 L2174.4,1564.2 L2177.4,1564.2 L2180.4,1564.2 L2183.4,1564.3 L2186.4,1564.3 L2189.4,1564.3 L2192.4,1564.3 L2195.4,1564.3 L2198.4,1564.3 L2201.4,1564.3 L2204.4,1564.4 L2207.4,1564.4 L2210.2,1564.4 L2213.2,1564.4 L2213.5,1564.4" fill="none" stroke="#ff0000" stroke-width="12" stroke-linejoin="round" stroke-linecap="round"/>
<text class="title" style="font-size:83.4px" transform="translate(1315 1823) scale(1 1.018)" text-anchor="middle">Wavelength (nm)</text>
<text class="title" style="font-size:82.8px" transform="translate(80 781.5) rotate(-90) scale(1 1.06)" text-anchor="middle">Intensity (au)</text>
<line x1="1493" y1="531.5" x2="1589" y2="531.5" stroke="#00b050" stroke-width="13"/><text class="leg" style="font-size:83px" transform="translate(1637.5 555) scale(1 1.025)">TPA-MC-1</text>
<line x1="1498" y1="621.5" x2="1592" y2="621.5" stroke="#0000ff" stroke-width="13"/><text class="leg" style="font-size:83px" transform="translate(1641.5 648) scale(1 1.025)">TPA-MC-2</text>
<line x1="1498" y1="715.5" x2="1592" y2="715.5" stroke="#ff0000" stroke-width="13"/><text class="leg" style="font-size:83px" transform="translate(1644.5 751) scale(1 1.025)">TPA-MC-3</text>
</g>
</svg>
</body>
</html>
